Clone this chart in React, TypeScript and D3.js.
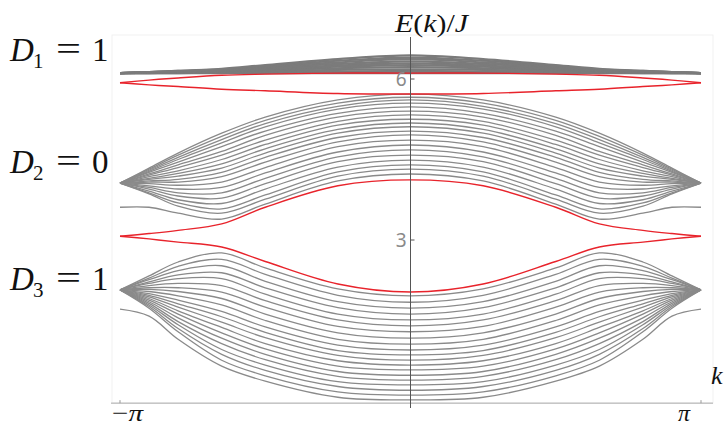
import React from "react";
import * as d3 from "d3";

const W = 726;
const H = 428;

// |k| sample positions in units of pi; every band is symmetric in k
const kAbs = [0, 0.25, 0.5, 0.65, 0.8, 0.9, 1];

// Upper narrow band (D1 = 1), E/J at kAbs
const bandUpper: number[][] = [
  [6.11, 6.11, 6.11, 6.11, 6.11, 6.11, 6.11],
  [6.15, 6.14, 6.13, 6.12, 6.11, 6.11, 6.11],
  [6.18, 6.17, 6.14, 6.13, 6.12, 6.11, 6.11],
  [6.22, 6.2, 6.16, 6.14, 6.12, 6.12, 6.11],
  [6.26, 6.23, 6.18, 6.15, 6.13, 6.12, 6.11],
  [6.29, 6.25, 6.19, 6.15, 6.13, 6.12, 6.11],
  [6.33, 6.28, 6.21, 6.16, 6.14, 6.12, 6.11],
  [6.37, 6.31, 6.23, 6.17, 6.14, 6.13, 6.11],
  [6.4, 6.34, 6.24, 6.18, 6.15, 6.13, 6.11],
  [6.44, 6.37, 6.26, 6.19, 6.15, 6.13, 6.11],
];

// Middle band (D2 = 0)
const bandMiddle: number[][] = [
  [5.72, 5.61, 5.29, 4.99, 4.62, 4.34, 4.06],
  [5.66, 5.55, 5.23, 4.93, 4.58, 4.32, 4.06],
  [5.61, 5.49, 5.17, 4.87, 4.54, 4.3, 4.06],
  [5.55, 5.44, 5.11, 4.81, 4.5, 4.28, 4.06],
  [5.48, 5.36, 5.03, 4.74, 4.45, 4.26, 4.06],
  [5.4, 5.29, 4.95, 4.65, 4.4, 4.23, 4.06],
  [5.33, 5.21, 4.86, 4.58, 4.35, 4.21, 4.06],
  [5.25, 5.14, 4.78, 4.5, 4.29, 4.18, 4.06],
  [5.18, 5.06, 4.7, 4.42, 4.24, 4.15, 4.06],
  [5.11, 4.99, 4.62, 4.34, 4.19, 4.13, 4.06],
  [5.03, 4.91, 4.54, 4.26, 4.13, 4.1, 4.06],
  [4.96, 4.83, 4.45, 4.18, 4.08, 4.08, 4.06],
  [4.86, 4.74, 4.35, 4.08, 4.02, 4.05, 4.06],
  [4.77, 4.64, 4.25, 3.98, 3.95, 4.01, 4.06],
  [4.68, 4.55, 4.15, 3.88, 3.88, 3.98, 4.06],
  [4.58, 4.46, 4.05, 3.78, 3.82, 3.95, 4.06],
  [4.49, 4.36, 3.95, 3.68, 3.75, 3.91, 4.06],
  [4.4, 4.27, 3.84, 3.58, 3.69, 3.88, 4.06],
  [4.32, 4.19, 3.76, 3.5, 3.63, 3.86, 4.06],
  [4.23, 4.1, 3.67, 3.39, 3.5, 3.61, 3.61],
];

// Lower band (D3 = 1)
const bandLower: number[][] = [
  [1.96, 2.09, 2.48, 2.76, 2.59, 2.33, 2.07],
  [1.84, 1.97, 2.36, 2.64, 2.51, 2.29, 2.07],
  [1.73, 1.85, 2.23, 2.52, 2.43, 2.26, 2.07],
  [1.62, 1.74, 2.11, 2.39, 2.35, 2.22, 2.07],
  [1.51, 1.62, 1.99, 2.28, 2.28, 2.19, 2.07],
  [1.4, 1.51, 1.87, 2.15, 2.19, 2.15, 2.07],
  [1.29, 1.39, 1.75, 2.03, 2.11, 2.11, 2.07],
  [1.17, 1.27, 1.62, 1.91, 2.04, 2.08, 2.07],
  [1.06, 1.15, 1.5, 1.79, 1.96, 2.04, 2.07],
  [0.95, 1.04, 1.38, 1.67, 1.88, 2.0, 2.07],
  [0.86, 0.94, 1.28, 1.57, 1.81, 1.97, 2.07],
  [0.76, 0.85, 1.18, 1.47, 1.75, 1.94, 2.07],
  [0.67, 0.75, 1.07, 1.37, 1.68, 1.91, 2.07],
  [0.58, 0.65, 0.97, 1.27, 1.62, 1.88, 2.07],
  [0.48, 0.55, 0.87, 1.17, 1.55, 1.85, 2.07],
  [0.39, 0.46, 0.77, 1.07, 1.48, 1.82, 2.07],
  [0.3, 0.36, 0.67, 0.96, 1.42, 1.79, 2.07],
  [0.2, 0.27, 0.57, 0.87, 1.35, 1.76, 2.07],
  [0.11, 0.17, 0.47, 0.76, 1.29, 1.73, 2.07],
  [0.02, 0.07, 0.37, 0.65, 1.15, 1.58, 1.71],
];

// In-gap edge states (red)
const edgeUpperGap: number[][] = [
  [6.11, 6.11, 6.09, 6.07, 6.02, 5.98, 5.93],
  [5.72, 5.73, 5.78, 5.81, 5.86, 5.89, 5.93],
];
const edgeLowerGap: number[][] = [
  [4.12, 4.01, 3.61, 3.3, 3.18, 3.12, 3.07],
  [2.03, 2.18, 2.6, 2.87, 2.96, 3.02, 3.07],
];

const yTicks = [3, 6];
const xTickLabels = ["\u2212\u03c0", "\u03c0"];
const xTickValues = [-Math.PI, Math.PI];
const xAxisLevel = -0.04;

const x = d3.scaleLinear().domain([-Math.PI, Math.PI]).range([120, 701]);
const y = d3.scaleLinear().domain([3, 6]).range([240, 79]);

type Pt = [number, number];

function fullCurve(vals: number[]): Pt[] {
  const pts: Pt[] = [];
  for (let i = kAbs.length - 1; i > 0; i--) pts.push([-kAbs[i] * Math.PI, vals[i]]);
  for (let i = 0; i < kAbs.length; i++) pts.push([kAbs[i] * Math.PI, vals[i]]);
  return pts;
}

const line = d3
  .line<Pt>()
  .x((d) => x(d[0]))
  .y((d) => y(d[1]))
  .curve(d3.curveCatmullRom.alpha(0.5));

const serif = "'Liberation Serif', 'DejaVu Serif', serif";

function DLabel({ sub, val, base }: { sub: string; val: string; base: number }) {
  return (
    <g fontFamily={serif} fill="#111">
      <text x={10} y={base} fontSize={33} fontStyle="italic">D</text>
      <text x={33} y={base + 7} fontSize={21}>{sub}</text>
      <text x={56} y={base - 1} fontSize={33} textLength={25} lengthAdjust="spacingAndGlyphs">=</text>
      <text x={92} y={base} fontSize={33}>{val}</text>
    </g>
  );
}

export default function App() {
  const xAxisY = y(xAxisLevel);
  const x0 = x(0);
  return (
    <svg
      width={W}
      height={H}
      viewBox={`0 0 ${W} ${H}`}
      style={{ position: "fixed", left: 0, top: 0, background: "#fff" }}
    >
      <rect x={112} y={35} width={601} height={368} fill="none" stroke="#f1f1f1" />

      <g fill="none" strokeLinejoin="round">
        {bandUpper.map((v, i) => (
          <path key={"u" + i} d={line(fullCurve(v)) || ""} stroke="#7b7b7b" strokeWidth={2.2} />
        ))}
        {bandMiddle.map((v, i) => (
          <path key={"m" + i} d={line(fullCurve(v)) || ""} stroke="#8a8a8a" strokeWidth={1.3} />
        ))}
        {bandLower.map((v, i) => (
          <path key={"l" + i} d={line(fullCurve(v)) || ""} stroke="#8a8a8a" strokeWidth={1.3} />
        ))}
        {[...edgeUpperGap, ...edgeLowerGap].map((v, i) => (
          <path key={"r" + i} d={line(fullCurve(v)) || ""} stroke="#e8232b" strokeWidth={1.4} />
        ))}
      </g>

      {/* k axis */}
      <line x1={111} x2={713} y1={xAxisY} y2={xAxisY} stroke="#aaa" strokeWidth={1} />
      {xTickValues.map((v, i) => (
        <line key={"xt" + i} x1={x(v)} x2={x(v)} y1={xAxisY} y2={xAxisY - 3} stroke="#999" />
      ))}

      {/* E axis */}
      <line x1={x0} x2={x0} y1={37} y2={408} stroke="#555" strokeWidth={1} />
      {yTicks.map((t) => (
        <g key={"yt" + t}>
          <line x1={x0} x2={x0 + 4} y1={y(t)} y2={y(t)} stroke="#555" />
          <text
            x={x0 - 4}
            y={y(t)}
            textAnchor="end"
            dominantBaseline="central"
            fontFamily="'Noto Sans', 'Open Sans', sans-serif"
            fontSize={19}
            fill="#8a8a8a"
          >
            {t}
          </text>
        </g>
      ))}

      <text x={395} y={32} fontFamily={serif} fontSize={25} fill="#111" textLength={73} lengthAdjust="spacingAndGlyphs">
        <tspan fontStyle="italic">E</tspan>
        <tspan>(</tspan>
        <tspan fontStyle="italic">k</tspan>
        <tspan>)/</tspan>
        <tspan fontStyle="italic">J</tspan>
      </text>
      <text x={711} y={384} fontFamily={serif} fontSize={26} fontStyle="italic" fill="#111">k</text>
      <text x={112} y={421} fontFamily={serif} fontSize={24} fill="#111" textLength={31} lengthAdjust="spacingAndGlyphs">
        <tspan>{xTickLabels[0].charAt(0)}</tspan>
        <tspan fontStyle="italic">{xTickLabels[0].charAt(1)}</tspan>
      </text>
      <text x={678} y={421} fontFamily={serif} fontSize={24} fontStyle="italic" fill="#111">{xTickLabels[1]}</text>

      <DLabel sub="1" val="1" base={61} />
      <DLabel sub="2" val="0" base={173} />
      <DLabel sub="3" val="1" base={290} />
    </svg>
  );
}
